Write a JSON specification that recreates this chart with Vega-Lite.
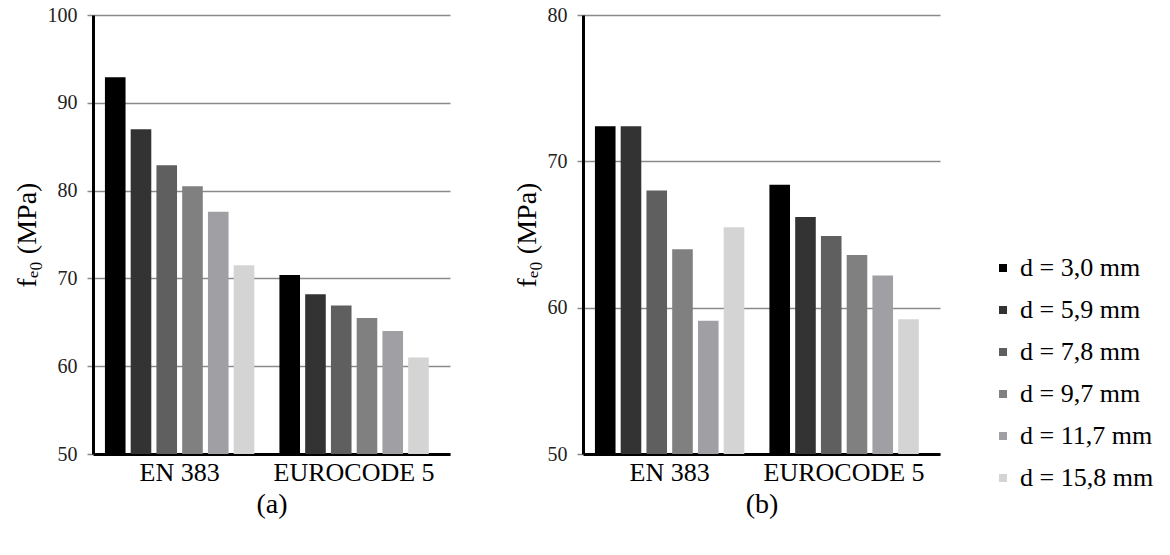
{
  "$schema": "https://vega.github.io/schema/vega-lite/v6.json",
  "background": "white",
  "padding": {"left": 13, "top": 5, "right": 5, "bottom": 5},
  "config": {
    "font": "Liberation Serif",
    "view": {"stroke": null},
    "concat": {"spacing": 63},
    "legend": {
      "orient": "none",
      "legendX": 897,
      "legendY": 240,
      "title": null,
      "labelFont": "Liberation Serif",
      "labelFontSize": 26,
      "labelColor": "black",
      "symbolType": "square",
      "symbolSize": 64,
      "symbolStrokeWidth": 0,
      "rowPadding": 16,
      "labelOffset": 4
    }
  },
  "data": {
    "values": [
      {"panel": "a", "standard": "EN 383", "d": "d = 3,0 mm", "fe0": 92.9},
      {"panel": "a", "standard": "EN 383", "d": "d = 5,9 mm", "fe0": 87.0},
      {"panel": "a", "standard": "EN 383", "d": "d = 7,8 mm", "fe0": 82.9},
      {"panel": "a", "standard": "EN 383", "d": "d = 9,7 mm", "fe0": 80.5},
      {"panel": "a", "standard": "EN 383", "d": "d = 11,7 mm", "fe0": 77.6},
      {"panel": "a", "standard": "EN 383", "d": "d = 15,8 mm", "fe0": 71.5},
      {"panel": "a", "standard": "EUROCODE 5", "d": "d = 3,0 mm", "fe0": 70.4},
      {"panel": "a", "standard": "EUROCODE 5", "d": "d = 5,9 mm", "fe0": 68.2},
      {"panel": "a", "standard": "EUROCODE 5", "d": "d = 7,8 mm", "fe0": 66.9},
      {"panel": "a", "standard": "EUROCODE 5", "d": "d = 9,7 mm", "fe0": 65.5},
      {"panel": "a", "standard": "EUROCODE 5", "d": "d = 11,7 mm", "fe0": 64.0},
      {"panel": "a", "standard": "EUROCODE 5", "d": "d = 15,8 mm", "fe0": 61.0},
      {"panel": "b", "standard": "EN 383", "d": "d = 3,0 mm", "fe0": 72.4},
      {"panel": "b", "standard": "EN 383", "d": "d = 5,9 mm", "fe0": 72.4},
      {"panel": "b", "standard": "EN 383", "d": "d = 7,8 mm", "fe0": 68.0},
      {"panel": "b", "standard": "EN 383", "d": "d = 9,7 mm", "fe0": 64.0},
      {"panel": "b", "standard": "EN 383", "d": "d = 11,7 mm", "fe0": 59.1},
      {"panel": "b", "standard": "EN 383", "d": "d = 15,8 mm", "fe0": 65.5},
      {"panel": "b", "standard": "EUROCODE 5", "d": "d = 3,0 mm", "fe0": 68.4},
      {"panel": "b", "standard": "EUROCODE 5", "d": "d = 5,9 mm", "fe0": 66.2},
      {"panel": "b", "standard": "EUROCODE 5", "d": "d = 7,8 mm", "fe0": 64.9},
      {"panel": "b", "standard": "EUROCODE 5", "d": "d = 9,7 mm", "fe0": 63.6},
      {"panel": "b", "standard": "EUROCODE 5", "d": "d = 11,7 mm", "fe0": 62.2},
      {"panel": "b", "standard": "EUROCODE 5", "d": "d = 15,8 mm", "fe0": 59.2}
    ]
  },
  "hconcat": [
    {
      "width": 357,
      "height": 439,
      "transform": [{"filter": "datum.panel === 'a'"}],
      "mark": {"type": "bar", "clip": true},
      "encoding": {
        "x": {
          "field": "standard", "type": "nominal", "sort": ["EN 383", "EUROCODE 5"],
          "scale": {"paddingInner": 0.144, "paddingOuter": 0.095, "align": 0.36},
          "axis": {"title": "(a)", "labelAngle": 0, "ticks": false, "domainColor": "black", "domainWidth": 3,
                   "labelFont": "Liberation Serif", "titleFont": "Liberation Serif",
                   "labelFontSize": 26, "labelColor": "black", "labelPadding": 5,
                   "titleFontSize": 28, "titleFontWeight": "normal", "titleColor": "black", "titlePadding": 5}
        },
        "xOffset": {
          "field": "d", "type": "nominal",
          "sort": ["d = 3,0 mm", "d = 5,9 mm", "d = 7,8 mm", "d = 9,7 mm", "d = 11,7 mm", "d = 15,8 mm"],
          "scale": {"paddingInner": 0.2, "paddingOuter": 0}
        },
        "y": {
          "field": "fe0", "type": "quantitative",
          "scale": {"domain": [50, 100], "nice": false, "zero": false},
          "axis": {"values": [50, 60, 70, 80, 90, 100], "grid": true, "gridColor": "#8a8a8a", "gridWidth": 1.5,
                   "tickColor": "#8a8a8a", "tickSize": 6, "tickWidth": 1.5, "domainColor": "black", "domainWidth": 3,
                   "labelFont": "Liberation Serif", "titleFont": "Liberation Serif",
                   "labelFontSize": 20, "labelColor": "#222222", "labelPadding": 10,
                   "title": "fₑ₀ (MPa)", "titleFontSize": 28, "titleFontWeight": "normal", "titleColor": "black", "titlePadding": 6}
        },
        "y2": {"datum": 50},
        "color": {
          "field": "d", "type": "nominal",
          "sort": ["d = 3,0 mm", "d = 5,9 mm", "d = 7,8 mm", "d = 9,7 mm", "d = 11,7 mm", "d = 15,8 mm"],
          "scale": {
            "domain": ["d = 3,0 mm", "d = 5,9 mm", "d = 7,8 mm", "d = 9,7 mm", "d = 11,7 mm", "d = 15,8 mm"],
            "range": ["#000000", "#333333", "#5f5f5f", "#808080", "#a0a0a4", "#d4d4d4"]
          }
        }
      }
    },
    {
      "width": 357,
      "height": 439,
      "transform": [{"filter": "datum.panel === 'b'"}],
      "mark": {"type": "bar", "clip": true},
      "encoding": {
        "x": {
          "field": "standard", "type": "nominal", "sort": ["EN 383", "EUROCODE 5"],
          "scale": {"paddingInner": 0.144, "paddingOuter": 0.095, "align": 0.36},
          "axis": {"title": "(b)", "labelAngle": 0, "ticks": false, "domainColor": "black", "domainWidth": 3,
                   "labelFont": "Liberation Serif", "titleFont": "Liberation Serif",
                   "labelFontSize": 26, "labelColor": "black", "labelPadding": 5,
                   "titleFontSize": 28, "titleFontWeight": "normal", "titleColor": "black", "titlePadding": 5}
        },
        "xOffset": {
          "field": "d", "type": "nominal",
          "sort": ["d = 3,0 mm", "d = 5,9 mm", "d = 7,8 mm", "d = 9,7 mm", "d = 11,7 mm", "d = 15,8 mm"],
          "scale": {"paddingInner": 0.2, "paddingOuter": 0}
        },
        "y": {
          "field": "fe0", "type": "quantitative",
          "scale": {"domain": [50, 80], "nice": false, "zero": false},
          "axis": {"values": [50, 60, 70, 80], "grid": true, "gridColor": "#8a8a8a", "gridWidth": 1.5,
                   "tickColor": "#8a8a8a", "tickSize": 6, "tickWidth": 1.5, "domainColor": "black", "domainWidth": 3,
                   "labelFont": "Liberation Serif", "titleFont": "Liberation Serif",
                   "labelFontSize": 20, "labelColor": "#222222", "labelPadding": 10,
                   "title": "fₑ₀ (MPa)", "titleFontSize": 28, "titleFontWeight": "normal", "titleColor": "black", "titlePadding": 6}
        },
        "y2": {"datum": 50},
        "color": {
          "field": "d", "type": "nominal",
          "sort": ["d = 3,0 mm", "d = 5,9 mm", "d = 7,8 mm", "d = 9,7 mm", "d = 11,7 mm", "d = 15,8 mm"],
          "scale": {
            "domain": ["d = 3,0 mm", "d = 5,9 mm", "d = 7,8 mm", "d = 9,7 mm", "d = 11,7 mm", "d = 15,8 mm"],
            "range": ["#000000", "#333333", "#5f5f5f", "#808080", "#a0a0a4", "#d4d4d4"]
          }
        }
      }
    }
  ]
}
